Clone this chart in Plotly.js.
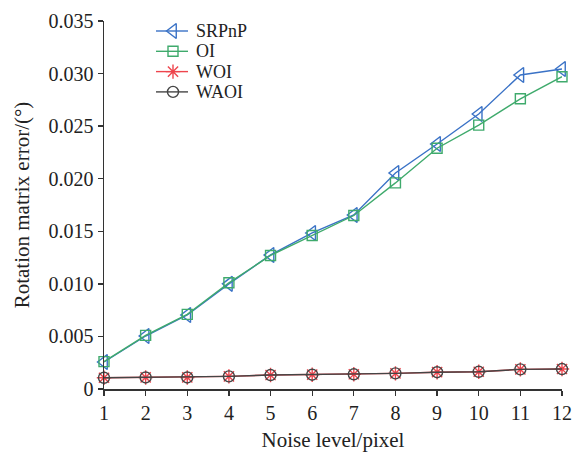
<!DOCTYPE html>
<html><head><meta charset="utf-8">
<script src="https://cdn.plot.ly/plotly-3.0.1.min.js"></script>
<style>html,body{margin:0;padding:0;background:#fff}</style>
</head><body><div id="chart" style="width:575px;height:456px"></div>
<script>
const noise = [1,2,3,4,5,6,7,8,9,10,11,12];
const srpnp = [0.00257,0.00504,0.00704,0.0100,0.01275,0.01484,0.01655,0.02054,0.0233,0.02616,0.02987,0.03043];
const oi = [0.0026,0.0051,0.0071,0.0101,0.0127,0.0146,0.0165,0.0196,0.0229,0.0251,0.0276,0.0297];
const woi = [0.00107,0.00110,0.00110,0.0012,0.00133,0.00136,0.0014,0.00149,0.0016,0.00164,0.00187,0.0019];
const waoi = [0.00107,0.00110,0.00110,0.0012,0.00133,0.00136,0.0014,0.00149,0.0016,0.00164,0.00187,0.0019];
const seriesNames = ['SRPnP','OI','WOI','WAOI'];
const yticks = [0,0.005,0.010,0.015,0.020,0.025,0.030,0.035];
const yticktext = ['0','0.005','0.010','0.015','0.020','0.025','0.030','0.035'];

const FONT = 'Liberation Serif, Times New Roman, serif';
const styles = [
  {color:'#3a72c6', sym:'triangle-left-open', size:13},
  {color:'#3faa6c', sym:'square-open', size:10},
  {color:'#ee454d', sym:'asterisk-open', size:12},
  {color:'#454545', sym:'circle-open', size:11}
];
const values = [srpnp, oi, woi, waoi];

const data = values.map((y,i)=>({
  x: noise, y: y, name: seriesNames[i], type:'scatter', mode:'lines+markers', cliponaxis:false, showlegend:false,
  line:{color: styles[i].color, width:1.4},
  marker:{symbol: styles[i].sym, size: styles[i].size, color: styles[i].color, line:{color: styles[i].color, width:1.4}}
}));

// custom legend drawn on an overlay pixel-space axis
const legX0 = 156, legX1 = 188, legXm = 173, legTextX = 195, legY0 = 31, legDy = 20.3;
const annotations = [];
seriesNames.forEach((n,i)=>{
  const yy = legY0 + i*legDy;
  data.push({x:[legX0, legX1], y:[yy,yy], xaxis:'x2', yaxis:'y2', mode:'lines', showlegend:false, hoverinfo:'skip', cliponaxis:false,
    line:{color: styles[i].color, width:1.4}});
  data.push({x:[legXm], y:[yy], xaxis:'x2', yaxis:'y2', mode:'markers', showlegend:false, hoverinfo:'skip', cliponaxis:false,
    marker:{symbol: styles[i].sym, size: styles[i].size, color: styles[i].color, line:{color: styles[i].color, width:1.4}}});
  annotations.push({x: legTextX, y: yy, xref:'x2', yref:'y2', text: n, showarrow:false, xanchor:'left', yanchor:'middle',
    borderpad:0, font:{family:FONT, size:18, color:'#222'}});
});

const layout = {
  width:575, height:456, margin:{l:104, r:13, t:21, b:67},
  paper_bgcolor:'#fff', plot_bgcolor:'#fff', font:{family:FONT, size:20, color:'#222'}, showlegend:false,
  annotations: annotations,
  xaxis:{range:[1,12], tickvals:noise, ticks:'outside', ticklen:5, tickcolor:'#333', tickwidth:1.3, showline:true, linecolor:'#333', linewidth:1.5, showgrid:false, zeroline:false,
    tickfont:{family:FONT, size:20, color:'#222'},
    title:{text:'Noise level/pixel', font:{family:FONT, size:21, color:'#222'}, standoff:10}},
  yaxis:{range:[0,0.035], tickvals:yticks, ticktext:yticktext, ticks:'outside', ticklen:5, tickcolor:'#333', tickwidth:1.3, showline:true, linecolor:'#333', linewidth:1.5, showgrid:false, zeroline:false,
    tickfont:{family:FONT, size:20, color:'#222'},
    title:{text:'Rotation matrix error/(°)', font:{family:FONT, size:21, color:'#222'}, standoff:13}},
  xaxis2:{overlaying:'x', range:[104,562], visible:false, fixedrange:true},
  yaxis2:{overlaying:'y', range:[389,21], visible:false, fixedrange:true}
};
Plotly.newPlot('chart', data, layout, {displayModeBar:false, staticPlot:true});
</script></body></html>
